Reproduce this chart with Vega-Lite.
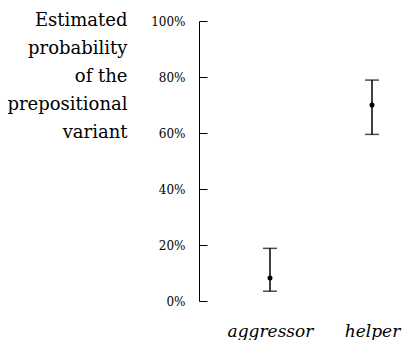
{
  "$schema": "https://vega.github.io/schema/vega-lite/v6.json",
  "width": 203,
  "height": 280,
  "autosize": {"type": "none"},
  "padding": {"left": 199, "top": 21, "right": 0, "bottom": 39},
  "background": "white",
  "config": {
    "view": {"stroke": null},
    "font": "DejaVu Serif",
    "axis": {
      "labelFont": "DejaVu Serif",
      "titleFont": "DejaVu Serif"
    }
  },
  "data": {
    "values": [
      {"noun": "aggressor", "est": 0.082, "lo": 0.035, "hi": 0.188},
      {"noun": "helper", "est": 0.700, "lo": 0.595, "hi": 0.789}
    ]
  },
  "encoding": {
    "x": {
      "field": "noun",
      "type": "nominal",
      "scale": {"type": "point", "padding": 0.495, "align": 0.703},
      "axis": {
        "title": null,
        "domain": false,
        "ticks": false,
        "labelAngle": 0,
        "labelFontStyle": "italic",
        "labelFontSize": 17,
        "labelColor": "black",
        "labelBaseline": "alphabetic",
        "labelPadding": 35
      }
    }
  },
  "layer": [
    {
      "mark": {"type": "rule", "color": "black", "strokeWidth": 1.5},
      "encoding": {
        "y": {
          "field": "lo",
          "type": "quantitative",
          "scale": {"domain": [0, 1]},
          "axis": {
            "values": [0, 0.2, 0.4, 0.6, 0.8, 1],
            "format": ".0%",
            "grid": false,
            "domainColor": "black",
            "domainWidth": 1,
            "tickColor": "black",
            "tickWidth": 1,
            "tickSize": -8,
            "labelPadding": 22,
            "labelFontSize": 12,
            "labelColor": "black",
            "title": ["Estimated", "probability", "of the", "prepositional", "variant"],
            "titleFontSize": 18,
            "titleFontWeight": "normal",
            "titleColor": "black",
            "titleAngle": 0,
            "titleAlign": "right",
            "titleBaseline": "alphabetic",
            "titleLineHeight": 28,
            "titleX": -72,
            "titleY": 4
          }
        },
        "y2": {"field": "hi"}
      }
    },
    {
      "mark": {"type": "tick", "color": "black", "thickness": 1.5, "size": 14, "orient": "horizontal"},
      "encoding": {"y": {"field": "lo", "type": "quantitative"}}
    },
    {
      "mark": {"type": "tick", "color": "black", "thickness": 1.5, "size": 14, "orient": "horizontal"},
      "encoding": {"y": {"field": "hi", "type": "quantitative"}}
    },
    {
      "mark": {"type": "point", "filled": true, "color": "black", "opacity": 1, "size": 25},
      "encoding": {"y": {"field": "est", "type": "quantitative"}}
    }
  ]
}
